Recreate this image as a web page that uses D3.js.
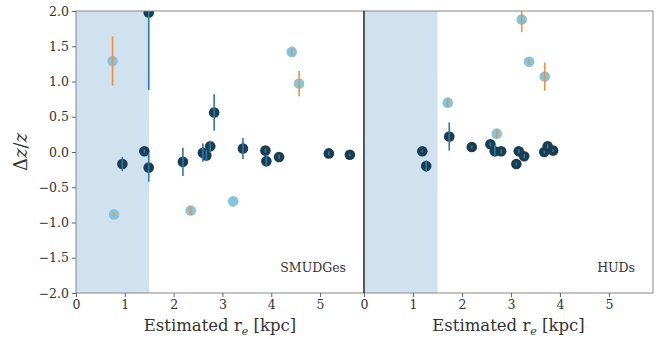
<!DOCTYPE html>
<html>
<head>
<meta charset="utf-8">
<script src="https://cdn.jsdelivr.net/npm/d3@7"></script>
<style>
  body { margin: 0; background: #fff; }
  svg text { font-family: "DejaVu Serif", "Liberation Serif", serif; fill: #333; }
</style>
</head>
<body>
<div id="chart"></div>
<script>
// SMUDGes panel
const smDarkRe  = [0.95, 1.40, 1.49, 1.49, 2.19, 2.60, 2.67, 2.75, 2.83, 3.42, 3.88, 3.90, 4.16, 5.18, 5.61];
const smDarkDz  = [-0.17, 0.01, 1.98, -0.22, -0.14, -0.01, -0.05, 0.08, 0.56, 0.05, 0.02, -0.13, -0.07, -0.02, -0.04];
const smDarkErr = [0.10, 0.03, 1.10, 0.20, 0.20, 0.13, 0.08, 0.08, 0.26, 0.15, 0.03, 0.08, 0.03, 0.03, 0.02];
const smLightRe  = [0.75, 0.78, 2.35, 3.22, 4.42, 4.57];
const smLightDz  = [1.29, -0.885, -0.83, -0.70, 1.42, 0.97];
const smLightErr = [0.35, 0.03, 0.06, 0.0, 0.05, 0.18];

// HUDs panel
const hudDarkRe  = [1.19, 1.27, 1.74, 2.20, 2.58, 2.67, 2.80, 3.11, 3.16, 3.27, 3.68, 3.75, 3.86];
const hudDarkDz  = [0.01, -0.20, 0.22, 0.07, 0.11, 0.01, 0.01, -0.17, 0.01, -0.06, 0.00, 0.08, 0.02];
const hudDarkErr = [0.02, 0.08, 0.20, 0.02, 0.03, 0.08, 0.03, 0.02, 0.03, 0.03, 0.02, 0.03, 0.02];
const hudLightRe  = [1.71, 2.71, 3.22, 3.37, 3.69];
const hudLightDz  = [0.70, 0.26, 1.88, 1.28, 1.07];
const hudLightErr = [0.06, 0.06, 0.18, 0.04, 0.20];

const xTicks = [0, 1, 2, 3, 4, 5];
const yTicks = [-2, -1.5, -1, -0.5, 0, 0.5, 1, 1.5, 2];
const shadeLimit = 1.5;
const panelNames = ["SMUDGes", "HUDs"];

const width = 657, height = 339;
const plotTop = 11, plotBottom = 293;
const serif = '"DejaVu Serif", serif';
const panels = [
  { left: 76, right: 364, name: panelNames[0],
    dark: d3.zip(smDarkRe, smDarkDz, smDarkErr), light: d3.zip(smLightRe, smLightDz, smLightErr) },
  { left: 364, right: 653, name: panelNames[1],
    dark: d3.zip(hudDarkRe, hudDarkDz, hudDarkErr), light: d3.zip(hudLightRe, hudLightDz, hudLightErr) }
];

const svg = d3.select('#chart').append('svg')
  .attr('width', width)
  .attr('height', height);

const y = d3.scaleLinear().domain([-2, 2]).range([plotBottom, plotTop]);

panels.forEach((p, i) => {
  const x = d3.scaleLinear().domain([0, 5.9]).range([p.left, p.right]);
  const clipId = 'clip' + i;
  svg.append('clipPath').attr('id', clipId)
    .append('rect')
    .attr('x', p.left).attr('y', plotTop)
    .attr('width', p.right - p.left).attr('height', plotBottom - plotTop);

  const g = svg.append('g').attr('clip-path', `url(#${clipId})`);

  g.append('rect')
    .attr('x', x(0)).attr('y', plotTop)
    .attr('width', x(shadeLimit) - x(0))
    .attr('height', plotBottom - plotTop)
    .attr('fill', '#d0e1ef');

  // dark points
  g.selectAll('circle.dark').data(p.dark).join('circle')
    .attr('class', 'dark')
    .attr('cx', d => x(d[0])).attr('cy', d => y(d[1]))
    .attr('r', 5.3)
    .attr('fill', '#1b3d4d');
  g.selectAll('line.darkerr').data(p.dark).join('line')
    .attr('class', 'darkerr')
    .attr('x1', d => x(d[0])).attr('x2', d => x(d[0]))
    .attr('y1', d => y(d[1] - d[2])).attr('y2', d => y(d[1] + d[2]))
    .attr('stroke', '#2a78b0').attr('stroke-width', 1.6);

  // light points
  g.selectAll('circle.light').data(p.light).join('circle')
    .attr('class', 'light')
    .attr('cx', d => x(d[0])).attr('cy', d => y(d[1]))
    .attr('r', 5.3)
    .attr('fill', '#82c4e2');
  g.selectAll('line.lighterr').data(p.light.filter(d => d[2] > 0)).join('line')
    .attr('class', 'lighterr')
    .attr('x1', d => x(d[0])).attr('x2', d => x(d[0]))
    .attr('y1', d => y(d[1] - d[2])).attr('y2', d => y(d[1] + d[2]))
    .attr('stroke', '#f0903a').attr('stroke-width', 1.6);

  // frame
  svg.append('rect')
    .attr('x', p.left).attr('y', plotTop)
    .attr('width', p.right - p.left).attr('height', plotBottom - plotTop)
    .attr('fill', 'none').attr('stroke', '#888').attr('stroke-width', 1);

  // x axis
  const xAxis = svg.append('g')
    .attr('transform', `translate(0,${plotBottom})`)
    .call(d3.axisBottom(x).tickValues(xTicks).tickSize(4).tickPadding(3).tickFormat(d3.format('d')));
  xAxis.select('.domain').remove();
  xAxis.selectAll('line').attr('stroke', '#666');
  xAxis.selectAll('text').attr('font-size', 12.5).attr('fill', '#444')
    .attr('font-family', serif);

  if (i === 0) {
    const yAxis = svg.append('g')
      .attr('transform', `translate(${p.left},0)`)
      .call(d3.axisLeft(y).tickValues(yTicks).tickSize(4).tickPadding(3).tickFormat(d3.format('.1f')));
    yAxis.select('.domain').remove();
    yAxis.selectAll('line').attr('stroke', '#666');
    yAxis.selectAll('text').attr('font-size', 12.5).attr('fill', '#444')
      .attr('font-family', serif);
  }

  // panel name
  svg.append('text')
    .attr('x', p.right - 18).attr('y', 272)
    .attr('text-anchor', 'end')
    .attr('font-size', 12.5)
    .text(p.name);

  // x label
  const xl = svg.append('text')
    .attr('x', (p.left + p.right) / 2).attr('y', 331)
    .attr('text-anchor', 'middle')
    .attr('font-size', 16.5);
  xl.append('tspan').text('Estimated r');
  xl.append('tspan').attr('font-size', 11).attr('font-style', 'italic').attr('dy', 4).text('e');
  xl.append('tspan').attr('dy', -4).text(' [kpc]');
});

// divider between panels
svg.append('line')
  .attr('x1', panels[1].left).attr('x2', panels[1].left)
  .attr('y1', plotTop).attr('y2', plotBottom)
  .attr('stroke', '#222').attr('stroke-width', 1.2);

// y label
const yl = svg.append('text')
  .attr('transform', `translate(27,${(plotTop + plotBottom) / 2}) rotate(-90)`)
  .attr('text-anchor', 'middle')
  .attr('font-size', 18);
yl.append('tspan').text('Δ');
yl.append('tspan').attr('font-style', 'italic').text('z');
yl.append('tspan').text('/');
yl.append('tspan').attr('font-style', 'italic').text('z');
</script>
</body>
</html>
